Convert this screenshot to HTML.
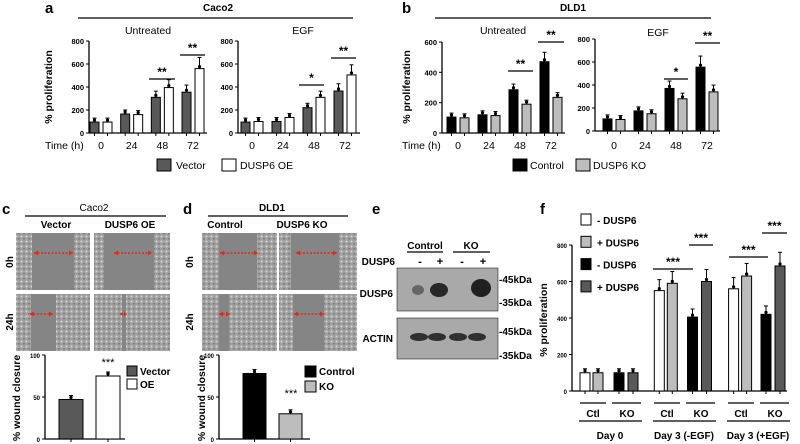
<!DOCTYPE html>
<html><head><meta charset="utf-8"><style>
body{margin:0;background:#fff;}
svg{display:block;font-family:"Liberation Sans",Arial,sans-serif;}
</style></head><body>
<svg id="fig" width="800" height="444" viewBox="0 0 800 444">
<defs>
<pattern id="cells" width="5" height="5" patternUnits="userSpaceOnUse"><rect width="5" height="5" fill="#a0a0a0"/><circle cx="1.5" cy="1.5" r="1" fill="#d4d4d4"/><circle cx="4" cy="3.8" r="0.8" fill="#6e6e6e"/></pattern>
</defs>
<g id="root"></g>
</svg>
<script>
// ---- data ----
var timeLabels = ["0","24","48","72"];
var aUntVector = [95,165,310,355];
var aUntOE = [95,160,395,560];
var aEgfVector = [95,100,220,365];
var aEgfOE = [100,135,310,505];
var bUntControl = [105,120,285,470];
var bUntKO = [100,115,190,235];
var bEgfControl = [105,175,370,555];
var bEgfKO = [100,150,280,340];
var cWound = [47,75];
var dWound = [78,30];
var fGroups = ["Day 0","Day 3 (-EGF)","Day 3 (+EGF)"];
var fCtlMinus = [100,550,560];
var fCtlPlus = [100,590,630];
var fKoMinus = [100,405,420];
var fKoPlus = [100,600,685];
var ticksA = [0,200,400,600,800];
var ticksB1 = [0,200,400,600];
var ticksWound = [0,50,100];

var NS="http://www.w3.org/2000/svg";
var root=document.getElementById('root');
function el(tag,attrs,txt,parent){var e=document.createElementNS(NS,tag);for(var k in attrs)e.setAttribute(k,attrs[k]);if(txt!==undefined)e.textContent=txt;(parent||root).appendChild(e);return e;}
function txt(x,y,s,size,bold,anchor,name,rot){var a={x:x,y:y,'font-size':size,'text-anchor':anchor||'middle','font-weight':bold?'bold':'normal',fill:'#000'};if(rot)a.transform='rotate(-90 '+x+' '+y+')';var t=el('text',a,s);


return t;}
function line(x1,y1,x2,y2,w,name){var l=el('line',{x1:x1,y1:y1,x2:x2,y2:y2,stroke:'#000','stroke-width':w||1});


return l;}
function rect(x,y,w,h,fill,name,sw){var r=el('rect',{x:x,y:y,width:w,height:h,fill:fill,stroke:'#000','stroke-width':sw===undefined?1:sw});


return r;}

function makeY(y0,yTop,max){return function(v){return y0-v/max*(y0-yTop);};}
function yAxis(ax,y0,yTop,max,ticks,xEnd,size,prefix){var Y=makeY(y0,yTop,max);
line(ax,yTop,ax,y0,1.3,prefix+'-y-axis');line(ax,y0,xEnd,y0,1.3,prefix+'-x-axis');
ticks.forEach(function(t){line(ax-3,Y(t),ax,Y(t),1,prefix+'-y-tick');txt(ax-5,Y(t)+3,String(t),size,true,'end',prefix+'-y-tick-label');});return Y;}
function barSet(vals,Y,left0,step,w,fill,name,y0){vals.forEach(function(v,i){var x=left0+i*step;rect(x,Y(v),w,y0-Y(v),fill,name+'-'+i,1);
line(x+w/2,Y(v)-Math.max(4,v*0.02),x+w/2,Y(v),1,name+'-errorbar');line(x+w/2-2,Y(v)-Math.max(4,v*0.02),x+w/2+2,Y(v)-Math.max(4,v*0.02),1,name+'-errorcap');
line(x+w/2,y0,x+w/2,y0+3,1,name+'-x-tick');
var c=el('circle',{cx:x+w/2,cy:Y(v)-2,r:1.6,fill:'#000'});


});}
function sig(x1,x2,y,s,name){line(x1,y,x2,y,1.3,name+'-line');txt((x1+x2)/2,y-3,s,12,true,'middle',name+'-stars');}

// ---- panel a ----
txt(45,13,'a',15,true,'start','panel-a-label');
txt(218,11,'Caco2',10,true,'middle','panel-a-title');line(78,18,353,18,1.3,'panel-a-title-line');
txt(148,34,'Untreated',10.5,false,'middle','a-untreated-title');txt(303,34,'EGF',10.5,false,'middle','a-egf-title');
txt(52,87,'% proliferation',10.5,true,'middle','a-y-axis-title',true);
var Ya1=yAxis(89,133,41,800,ticksA,207,7.5,'a-untreated');
barSet(aUntVector,Ya1,90,30.67,9,'#595959','a-untreated-vector',133);
barSet(aUntOE,Ya1,103,30.67,9,'#fff','a-untreated-oe',133);
sig(149,175,79,'**','a-untreated-sig-48');sig(180,205,55,'**','a-untreated-sig-72');
var Ya2=yAxis(238,133,41,800,ticksA,360,7.5,'a-egf');
barSet(aEgfVector,Ya2,241,31,9,'#595959','a-egf-vector',133);
barSet(aEgfOE,Ya2,254,31,9,'#fff','a-egf-oe',133);
sig(299,324,85,'*','a-egf-sig-48');sig(331,356,58,'**','a-egf-sig-72');
txt(45,149,'Time (h)',10.5,false,'start','a-time-label');
timeLabels.forEach(function(t,i){txt(101+i*30.67,149,t,10.5,false,'middle','a-untreated-time-'+t);txt(252+i*31,149,t,10.5,false,'middle','a-egf-time-'+t);});
rect(157,159,14,12,'#595959','a-legend-vector-swatch',1);txt(176,169,'Vector',10.5,false,'start','a-legend-vector');
rect(222,159,14,12,'#fff','a-legend-oe-swatch',1);txt(240,169,'DUSP6 OE',10.5,false,'start','a-legend-oe');

// ---- panel b ----
txt(402,13,'b',15,true,'start','panel-b-label');
txt(573,11,'DLD1',10,true,'middle','panel-b-title');line(435,18,711,18,1.3,'panel-b-title-line');
txt(503,34,'Untreated',10.5,false,'middle','b-untreated-title');txt(658,36,'EGF',10.5,false,'middle','b-egf-title');
txt(410,87,'% proliferation',10.5,true,'middle','b-y-axis-title',true);
var Yb1=yAxis(442,133,42,600,ticksB1,565,7.5,'b-untreated');
barSet(bUntControl,Yb1,447,31,9,'#000','b-untreated-control',133);
barSet(bUntKO,Yb1,460,31,9,'#bdbdbd','b-untreated-ko',133);
sig(508,533,71,'**','b-untreated-sig-48');sig(538,564,42,'**','b-untreated-sig-72');
var Yb2=yAxis(595,131,39,800,ticksA,720,7.5,'b-egf');
barSet(bEgfControl,Yb2,603,31,9,'#000','b-egf-control',131);
barSet(bEgfKO,Yb2,616,31,9,'#bdbdbd','b-egf-ko',131);
sig(664,688,79,'*','b-egf-sig-48');sig(695,720,43,'**','b-egf-sig-72');
txt(402,149,'Time (h)',10.5,false,'start','b-time-label');
timeLabels.forEach(function(t,i){txt(458+i*31,149,t,10.5,false,'middle','b-untreated-time-'+t);txt(614+i*31,149,t,10.5,false,'middle','b-egf-time-'+t);});
rect(513,159,14,12,'#000','b-legend-control-swatch',1);txt(530,169,'Control',10.5,false,'start','b-legend-control');
rect(576,159,14,12,'#bdbdbd','b-legend-ko-swatch',1);txt(593,169,'DUSP6 KO',10.5,false,'start','b-legend-ko');

// ---- micrographs ----
function micro(x,y,w,h,gapL,gapR,arrowL,arrowR,name){
  var g=el('g',{});
  
  
  el('rect',{x:x,y:y,width:w,height:h,fill:'url(#cells)'},undefined,g);
  el('rect',{x:x+gapL,y:y,width:gapR-gapL,height:h,fill:'#858585'},undefined,g);
  var ay=y+h*0.35;
  el('line',{x1:x+arrowL,y1:ay,x2:x+arrowR,y2:ay,stroke:'#e8261c','stroke-width':1.5,'stroke-dasharray':'2,1.5'},undefined,g);
  el('path',{d:'M'+(x+arrowL)+' '+ay+' l4 -2.5 v5 z M'+(x+arrowR)+' '+ay+' l-4 -2.5 v5 z',fill:'#e8261c'},undefined,g);
}
txt(2,214,'c',15,true,'start','panel-c-label');
txt(94,211,'Caco2',10,false,'middle','panel-c-title');line(25,216,166,216,1.3,'panel-c-title-line');
txt(56,228,'Vector',10,true,'middle','c-vector-col');txt(130,228,'DUSP6 OE',10,true,'middle','c-oe-col');
txt(13,262,'0h',10,true,'middle','c-0h-row',true);txt(13,322,'24h',10,true,'middle','c-24h-row',true);
micro(16,233,74,57,16,58,18,57,'c-vector-0h');micro(94,233,76,57,10,60,20,58,'c-oe-0h');
micro(16,294,74,57,15,40,14,37,'c-vector-24h');micro(94,294,76,57,28,32,26,33,'c-oe-24h');
txt(183,214,'d',15,true,'start','panel-d-label');
txt(272,211,'DLD1',10,true,'middle','panel-d-title');line(208,216,348,216,1.3,'panel-d-title-line');
txt(225,228,'Control',10,true,'middle','d-control-col');txt(302,228,'DUSP6 KO',10,true,'middle','d-ko-col');
txt(193,262,'0h',10,true,'middle','d-0h-row',true);txt(193,322,'24h',10,true,'middle','d-24h-row',true);
micro(202,233,75,57,17,55,18,56,'d-control-0h');micro(279,233,78,57,12,60,17,58,'d-ko-0h');
micro(202,294,75,57,17,27,17,28,'d-control-24h');micro(279,294,78,57,14,45,15,45,'d-ko-24h');

txt(20,398,'% wound closure',10.5,true,'middle','c-y-axis-title',true);
var Yc=yAxis(45,439,355,100,ticksWound,125,6,'c-wound');
barSet([cWound[0]],Yc,59,0,24,'#595959','c-wound-vector',439);
barSet([cWound[1]],Yc,96,0,24,'#fff','c-wound-oe',439);
txt(108,366,'***',11,false,'middle','c-wound-sig');
rect(127,366,10,10,'#595959','c-legend-vector-swatch',1);txt(140,375,'Vector',10,true,'start','c-legend-vector');
rect(127,379,10,10,'#fff','c-legend-oe-swatch',1);txt(140,388,'OE',10,true,'start','c-legend-oe');
txt(205,398,'% wound closure',10.5,true,'middle','d-y-axis-title',true);
var Yd=yAxis(219,439,355,100,ticksWound,310,6,'d-wound');
barSet([dWound[0]],Yd,243,0,23,'#000','d-wound-control',439);
barSet([dWound[1]],Yd,279,0,23,'#bdbdbd','d-wound-ko',439);
txt(291,397,'***',11,false,'middle','d-wound-sig');
rect(305,366,11,11,'#000','d-legend-control-swatch',1);txt(319,375,'Control',10,true,'start','d-legend-control');
rect(305,381,11,11,'#bdbdbd','d-legend-ko-swatch',1);txt(319,390,'KO',10,true,'start','d-legend-ko');

// ---- panel e ----
txt(372,214,'e',15,true,'start','panel-e-label');
txt(425,249,'Control',10,true,'middle','e-control-label');line(407,252,443,252,1.3,'e-control-line');
txt(471,249,'KO',10,true,'middle','e-ko-label');line(453,252,490,252,1.3,'e-ko-line');
txt(395,265,'DUSP6',10,true,'end','e-dusp6-row-label');
['-','+','-','+'].forEach(function(s,i){txt([420,440,462,483][i],265,s,11,true,'middle','e-lane-'+i);});
rect(397,268,101,43,'#a9a9a9','e-dusp6-blot',0.5);
rect(397,318,101,41,'#a9a9a9','e-actin-blot',0.5);
function band(cx,cy,w,h,op,name){var e=el('ellipse',{cx:cx,cy:cy,rx:w,ry:h,fill:'#111','fill-opacity':op});

}
band(418,290,6,5,0.45,'e-band-dusp6-1');band(439,290,9,7,0.85,'e-band-dusp6-2');band(481,288,10,9,0.9,'e-band-dusp6-4');
[414,432,453,472].forEach(function(x,i){band(x+5,337,9,4,0.8,'e-band-actin-'+i);});
txt(393,297,'DUSP6',10,true,'end','e-dusp6-label');txt(393,342,'ACTIN',10,true,'end','e-actin-label');
txt(499,283,'-45kDa',10,true,'start','e-marker-45-a');txt(499,306,'-35kDa',10,true,'start','e-marker-35-a');
txt(499,335,'-45kDa',10,true,'start','e-marker-45-b');txt(499,359,'-35kDa',10,true,'start','e-marker-35-b');

// ---- panel f ----
txt(540,214,'f',15,true,'start','panel-f-label');
var fLeg=[['- DUSP6','#fff'],['+ DUSP6','#bdbdbd'],['- DUSP6','#000'],['+ DUSP6','#595959']];
fLeg.forEach(function(l,i){rect(581,214+i*22.3,10,11,l[1],'f-legend-swatch-'+i,1);txt(597,224+i*22.3,l[0],10,true,'start','f-legend-'+i);});
txt(547,320,'% proliferation',10.5,true,'middle','f-y-axis-title',true);
var Yf=yAxis(572,391,245,800,ticksA,787,6,'f');
barSet(fCtlMinus,Yf,580,74.3,10,'#fff','f-ctl-minus',391);
barSet(fCtlPlus,Yf,593,74.3,10,'#bdbdbd','f-ctl-plus',391);
barSet(fKoMinus,Yf,614,73.5,10,'#000','f-ko-minus',391);
barSet(fKoPlus,Yf,628,73.5,10,'#595959','f-ko-plus',391);
sig(653,693,269,'***','f-sig-noegf-1');sig(689,713,245,'***','f-sig-noegf-2');
sig(729,768,257,'***','f-sig-egf-1');sig(762,787,233,'***','f-sig-egf-2');
fGroups.forEach(function(g,i){var x=580+i*74;
 line(x,403,x+26,403,1.3,'f-ctl-line');txt(x+13,417,'Ctl',10,true,'middle','f-ctl-label');
 line(x+32,403,x+61,403,1.3,'f-ko-line');txt(x+47,417,'KO',10,true,'middle','f-ko-label');
 line(x-1,421,x+62,421,1.3,'f-group-line');txt(x+30,439,g,10,true,'middle','f-group-label-'+i);});
</script>
</body></html>
